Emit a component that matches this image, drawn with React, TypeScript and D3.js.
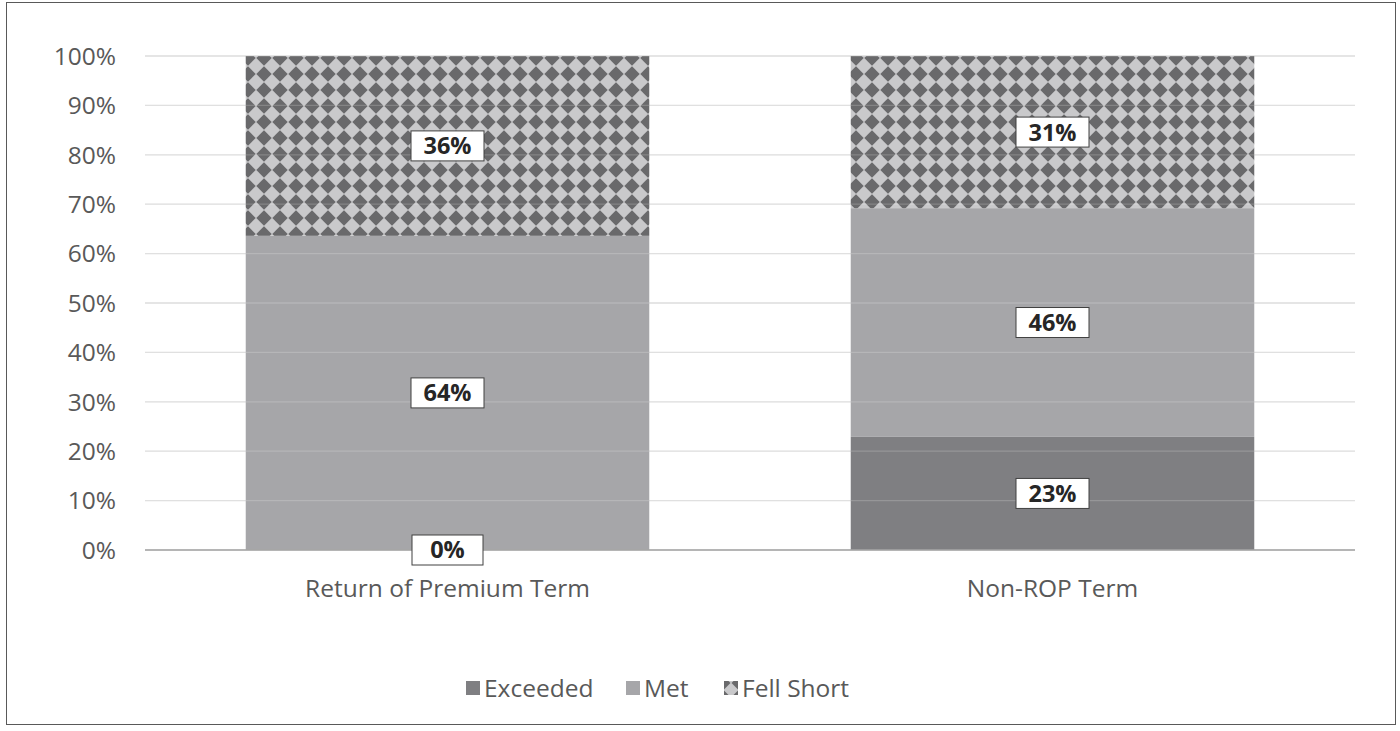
import React from "react";
import * as d3 from "d3";

const categories = ["Return of Premium Term", "Non-ROP Term"];
const seriesNames = ["Exceeded", "Met", "Fell Short"];
const exceeded = [0, 22.9];
const met = [63.6, 46.3];
const fellShort = [36.4, 30.8];
const yTicks = [0, 10, 20, 30, 40, 50, 60, 70, 80, 90, 100];

const W = 1400;
const H = 731;
const M = { left: 145, right: 1355, top: 56, bottom: 550 };
const FONT = "'Open Sans', 'Liberation Sans', sans-serif";
const FS = 24.5;

export default function App() {
  const x = d3.scaleBand<string>().domain(categories).range([M.left, M.right]).paddingInner(0.333).paddingOuter(0.1665);
  const y = d3.scaleLinear().domain([0, 100]).range([M.bottom, M.top]);
  const rows = categories.map((c, i) => ({ cat: c, Exceeded: exceeded[i], Met: met[i], "Fell Short": fellShort[i] }));
  const stack = d3.stack<any>().keys(seriesNames)(rows);
  const fills: Record<string, string> = { Exceeded: "#7f7f82", Met: "#a6a6a9", "Fell Short": "url(#diam)" };

  const legendItems = [
    { name: "Exceeded", x: 466 },
    { name: "Met", x: 626 },
    { name: "Fell Short", x: 724 },
  ];

  return (
    <svg width={W} height={H} style={{ position: "absolute", left: 0, top: 0 }}>
      <defs>
        <pattern id="diam" width={16} height={16} patternUnits="userSpaceOnUse" x={0} y={2}>
          <rect width={16} height={16} fill="#c9c9cb" />
          <path d="M8,0.3 L15.7,8 L8,15.7 L0.3,8 Z" fill="#69696b" />
        </pattern>
        <pattern id="diamS" width={14} height={14} patternUnits="userSpaceOnUse" x={3} y={4}>
          <rect width={14} height={14} fill="#c9c9cb" />
          <path d="M7,0.5 L13.5,7 L7,13.5 L0.5,7 Z" fill="#69696b" />
        </pattern>
      </defs>
      <rect x={0} y={0} width={W} height={H} fill="#fff" />
      <rect x={6.5} y={2.5} width={1389} height={722} fill="#fff" stroke="#595959" strokeWidth={1} />
      {yTicks.map((t) => (
        <g key={t}>
          <line x1={M.left} x2={M.right} y1={y(t)} y2={y(t)} stroke="#d9d9d9" strokeWidth={1.3} />
          <text x={116} y={y(t)} dy="0.36em" textAnchor="end" fontFamily={FONT} fontSize={FS} fill="#595959">
            {t}%
          </text>
        </g>
      ))}
      {stack.map((s) => (
        <g key={s.key}>
          {s.map((d, i) => (
            <rect
              key={i}
              x={x(categories[i])!}
              width={x.bandwidth()}
              y={y(d[1])}
              height={y(d[0]) - y(d[1])}
              fill={fills[s.key]}
            />
          ))}
        </g>
      ))}
      {yTicks.slice(1).map((t) => (
        <line key={"o" + t} x1={M.left} x2={M.right} y1={y(t)} y2={y(t)} stroke="#ffffff" strokeOpacity={0.18} strokeWidth={1.3} />
      ))}
      <line x1={M.left} x2={M.right} y1={y(0)} y2={y(0)} stroke="#a6a6a6" strokeWidth={1.5} />
      {categories.map((c) => (
        <text key={c} x={x(c)! + x.bandwidth() / 2} y={597} textAnchor="middle" fontFamily={FONT} fontSize={FS} fill="#595959">
          {c}
        </text>
      ))}
      {stack.map((s) =>
        s.map((d, i) => {
          const v = d[1] - d[0];
          const cx = x(categories[i])! + x.bandwidth() / 2;
          const cy = y((d[0] + d[1]) / 2);
          const label = Math.round(v) + "%";
          const bw = label.length > 2 ? 73 : 71;
          return (
            <g key={s.key + i}>
              <rect x={cx - bw / 2} y={cy - 15} width={bw} height={30} fill="#fff" stroke="#404040" strokeWidth={1} />
              <text x={cx} y={cy} dy="0.36em" textAnchor="middle" fontFamily={FONT} fontWeight="bold" fontSize={23.5} fill="#262626">
                {label}
              </text>
            </g>
          );
        })
      )}
      {legendItems.map((it) => (
        <g key={it.name}>
          <rect x={it.x} y={681} width={14} height={14} fill={it.name === "Fell Short" ? "url(#diamS)" : fills[it.name]} />
          <text x={it.x + 18} y={688} dy="0.36em" fontFamily={FONT} fontSize={FS} fill="#595959">
            {it.name}
          </text>
        </g>
      ))}
    </svg>
  );
}
